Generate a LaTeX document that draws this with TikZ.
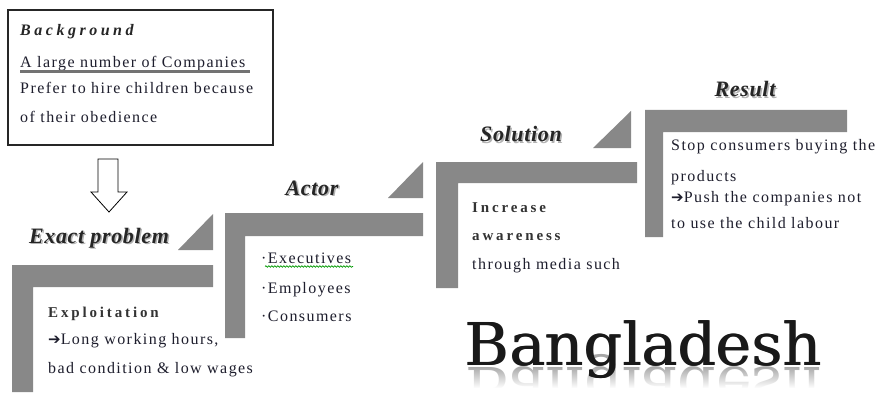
\documentclass[tikz,border=0pt]{standalone}
\usepackage{fontspec}
\setmainfont{Liberation Serif}
\newfontfamily\bodyfont[LetterSpace=9]{Liberation Serif}
\newfontfamily\spacedfont[LetterSpace=19]{Liberation Serif}
\newfontfamily\titlefont[LetterSpace=22]{Liberation Serif}
\newfontfamily\headfont[LetterSpace=3]{Liberation Serif}
\newfontfamily\bigserif{DejaVu Serif}
\newfontfamily\arrowfont{DejaVu Sans}
\usetikzlibrary{fadings,decorations.pathmorphing}
\definecolor{stepgray}{RGB}{136,136,136}
\definecolor{txt}{RGB}{30,30,45}
\newcommand{\rarr}{{\arrowfont\fontsize{15}{16}\selectfont ➔}}
\tikzset{
  body/.style={anchor=base west, inner sep=0pt, text=txt, font=\bodyfont\fontsize{16}{18}\selectfont},
  bodybold/.style={anchor=base west, inner sep=0pt, text=black!80, font=\spacedfont\bfseries\fontsize{15}{18}\selectfont},
  heading/.style={anchor=base, inner sep=0pt, text=black!85, font=\headfont\bfseries\itshape\fontsize{22}{24}\selectfont},
  headshadow/.style={heading, text=black!30},
  stepshape/.style={fill=stepgray, draw=none},
  bigword/.style={anchor=base west, inner sep=0pt, xscale=1.02, font=\bigserif\fontsize{59}{59}\selectfont}
}
\begin{document}
\begin{tikzpicture}[x=1pt,y=-1pt]
\useasboundingbox (0,0) rectangle (879,396);
\fill[white] (0,0) rectangle (879,396);

% background box
\draw[line width=1.3pt, black!85] (8,10) rectangle (273,145);
\node[anchor=base west, inner sep=0pt, text=black!85, font=\titlefont\bfseries\itshape\fontsize{16}{18}\selectfont] (bgt) at (20,36) {Background};
\node[body] (bg1) at (20,67) {A large number of Companies};
\draw[line width=2.5pt, black!55] (20,71.5) -- (250,71.5);
\node[body] (bg2) at (20,94) {Prefer to hire children because};
\node[body] (bg3) at (20,122) {of their obedience};

% hollow arrow
\draw[black, line width=0.8pt, fill=white] (98,159) -- (118,159) -- (118,192) -- (127,192) -- (109,212) -- (91,192) -- (98,192) -- cycle;

% step shapes
\fill[stepshape] (12,265) -- (213,265) -- (213,287) -- (33,287) -- (33,392) -- (12,392) -- cycle;
\fill[stepshape] (178,250) -- (213,214) -- (213,250) -- cycle;
\fill[stepshape] (225,213) -- (423,213) -- (423,236) -- (245,236) -- (245,338) -- (225,338) -- cycle;
\fill[stepshape] (388,198) -- (423,162) -- (423,198) -- cycle;
\fill[stepshape] (436,162) -- (637,162) -- (637,183) -- (458,183) -- (458,288) -- (436,288) -- cycle;
\fill[stepshape] (593,148) -- (631,111) -- (631,148) -- cycle;
\fill[stepshape] (645,110) -- (847,110) -- (847,132) -- (663,132) -- (663,237) -- (645,237) -- cycle;

% headings
\node[headshadow] at (100.5,244.5) {Exact problem};
\node[heading] (h1) at (99,243) {Exact problem};
\node[headshadow] at (313.5,196.5) {Actor};
\node[heading] (h2) at (312,195) {Actor};
\node[headshadow] at (522.5,143.5) {Solution};
\node[heading] (h3) at (521,142) {Solution};
\node[headshadow] at (746.5,98.5) {Result};
\node[heading] (h4) at (745,97) {Result};

% step 1 text
\node[bodybold] (e1) at (48,317) {Exploitation};
\node[body] (e2) at (48,344) {\rarr Long working hours,};
\node[body] (e3) at (48,373) {bad condition \& low wages};

% step 2 text
\node[body] (a1) at (261,263) {·Executives};
\draw[green!60!black, line width=0.7pt, decorate, decoration={snake, amplitude=0.8pt, segment length=3pt}] (265,266.5) -- (353,266.5);
\node[body] (a2) at (261,293) {·Employees};
\node[body] (a3) at (261,321) {·Consumers};

% step 3 text
\node[bodybold] (s1) at (472,212) {Increase};
\node[bodybold] (s2) at (472,240) {awareness};
\node[body] (s3) at (472,269) {through media such};

% step 4 text
\node[body] (r1) at (671,150) {Stop consumers buying the};
\node[body] (r2) at (671,181) {products};
\node[body] (r3) at (671,202) {\rarr Push the companies not};
\node[body] (r4) at (671,228) {to use the child labour};

% Bangladesh with reflection
\node[bigword, yscale=-1, text=black!35] (bdr) at (465,367) {Bangladesh};
\fill[white, path fading=north] (455,366) rectangle (840,388);
\fill[white] (455,388) rectangle (840,396);
\node[bigword, text=black!90] (bd) at (464.6,365) {Bangladesh};
\node[bigword, text=black!90] (bd2) at (465.6,365) {Bangladesh};
\end{tikzpicture}
\end{document}
